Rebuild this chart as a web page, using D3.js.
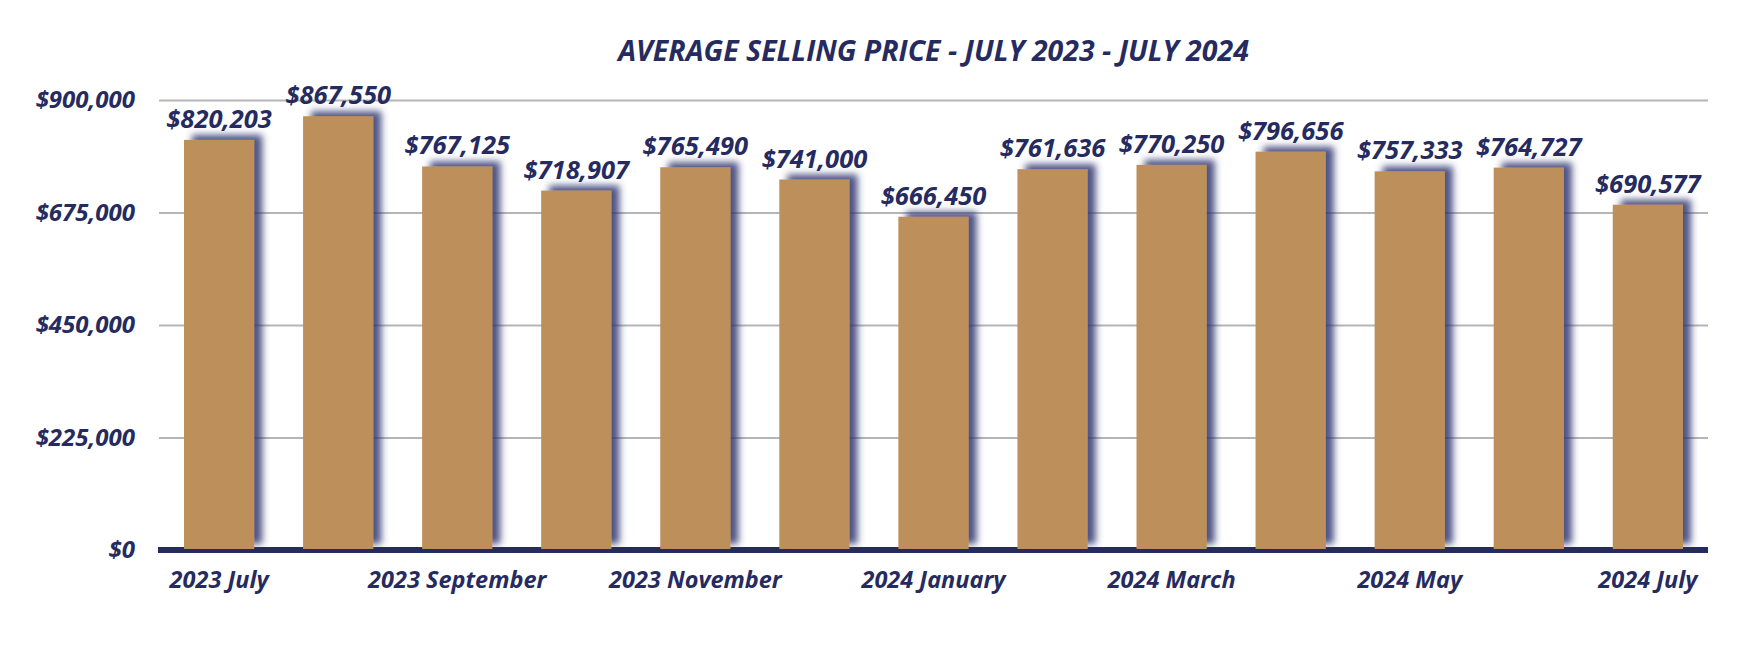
<!DOCTYPE html>
<html>
<head>
<meta charset="utf-8">
<script src="https://cdn.jsdelivr.net/npm/d3@7"></script>
<style>
  html, body { margin: 0; padding: 0; background: #ffffff; }
  svg { display: block; }
  text { font-family: "Open Sans", Lato, sans-serif; font-style: italic; font-weight: 700; fill: #262b5f; }
</style>
</head>
<body>
<svg id="chart" width="1760" height="660"></svg>
<script>
const title = "AVERAGE SELLING PRICE - JULY 2023 - JULY 2024";
const months = ["2023 July", "2023 August", "2023 September", "2023 October", "2023 November", "2023 December",
  "2024 January", "2024 February", "2024 March", "2024 April", "2024 May", "2024 June", "2024 July"];
const prices = [820203, 867550, 767125, 718907, 765490, 741000, 666450, 761636, 770250, 796656, 757333, 764727, 690577];
const yTicks = [0, 225000, 450000, 675000, 900000];
const shownMonths = ["2023 July", "2023 September", "2023 November", "2024 January", "2024 March", "2024 May", "2024 July"];

const svg = d3.select("#chart");
const mLeft = 159, mRight = 1708, mTop = 100, mBottom = 550;

const x = d3.scaleBand().domain(months).range([mLeft, mRight]).paddingInner(0.41).paddingOuter(0.21);
const y = d3.scaleLinear().domain([0, 900000]).range([mBottom, mTop]);

const defs = svg.append("defs");
const f = defs.append("filter").attr("id", "shadow").attr("x", "-40%").attr("y", "-10%").attr("width", "180%").attr("height", "120%");
f.append("feDropShadow").attr("dx", 8).attr("dy", -5).attr("stdDeviation", 3.6)
  .attr("flood-color", "#2f3470").attr("flood-opacity", 0.85);

// title
svg.append("text").attr("x", (mLeft + mRight) / 2).attr("y", 61).attr("text-anchor", "middle")
  .style("font-size", "28.5px").text(title);

// grid
const yAxis = d3.axisLeft(y).tickValues(yTicks).tickSize(-(mRight - mLeft)).tickPadding(24)
  .tickFormat(d => "$" + d3.format(",")(d));
const gy = svg.append("g").attr("transform", `translate(${mLeft},0)`).call(yAxis);
gy.select(".domain").remove();
gy.selectAll(".tick line").attr("stroke", "#b5b5b5").attr("stroke-width", 2);
gy.selectAll(".tick text").style("font-size", "24px").attr("fill", "#262b5f");

// baseline
svg.append("line").attr("x1", mLeft - 1).attr("x2", mRight).attr("y1", y(0)).attr("y2", y(0))
  .attr("stroke", "#262b5f").attr("stroke-width", 6);

// bars
svg.append("g").selectAll("rect").data(prices).join("rect")
  .attr("x", (d, i) => x(months[i]))
  .attr("y", d => y(d))
  .attr("width", x.bandwidth())
  .attr("height", d => y(0) - 1 - y(d))
  .attr("fill", "#bd8f5a")
  .attr("filter", "url(#shadow)");

// value labels
svg.append("g").selectAll("text").data(prices).join("text")
  .attr("x", (d, i) => x(months[i]) + x.bandwidth() / 2)
  .attr("y", d => y(d) - 12)
  .attr("text-anchor", "middle")
  .style("font-size", "25.5px")
  .text(d => "$" + d3.format(",")(d));

// x axis labels
const xAxis = d3.axisBottom(x).tickSize(0).tickPadding(21).tickFormat(d => shownMonths.includes(d) ? d : "");
const gx = svg.append("g").attr("transform", `translate(0,${mBottom})`).call(xAxis);
gx.select(".domain").remove();
gx.selectAll(".tick text").style("font-size", "23.5px").attr("fill", "#262b5f");
</script>
</body>
</html>
